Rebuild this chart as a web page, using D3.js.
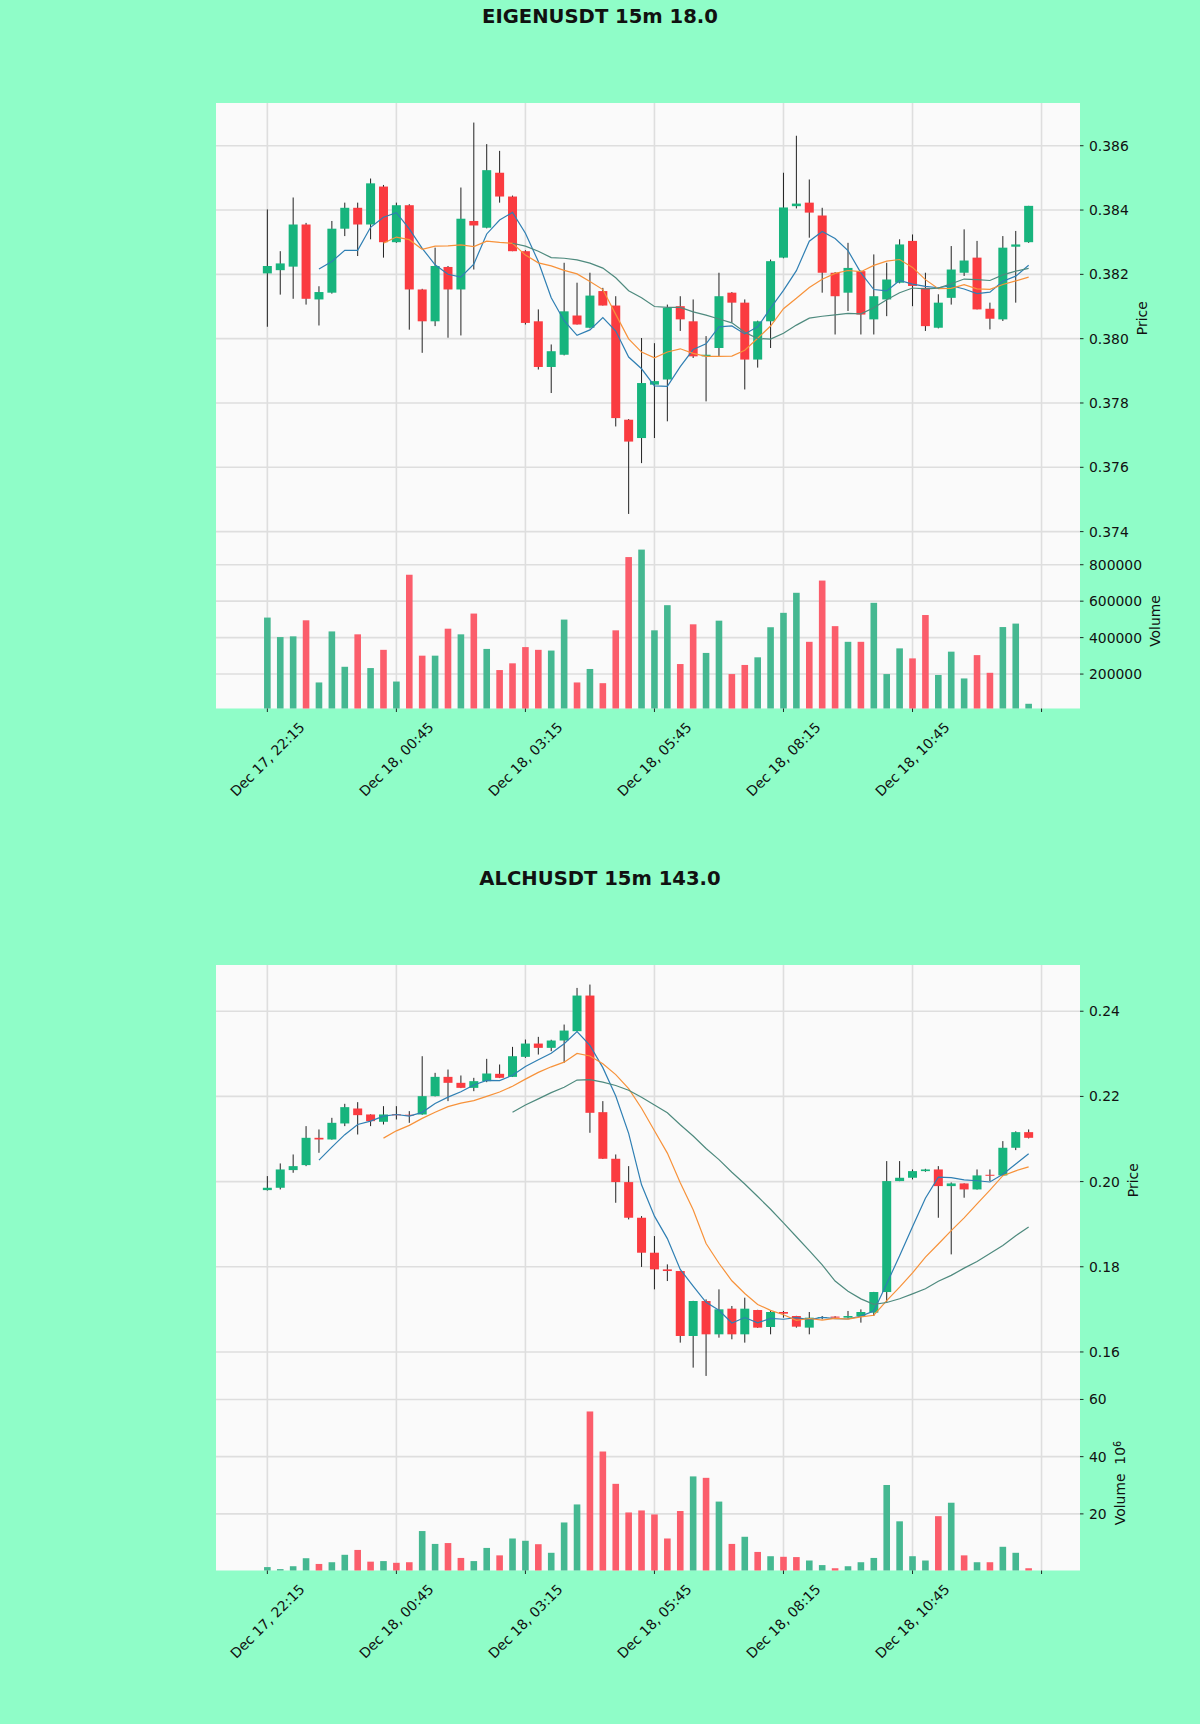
<!DOCTYPE html>
<html>
<head>
<meta charset="utf-8">
<script src="https://cdn.jsdelivr.net/npm/d3@7"></script>
<style>
  body { margin: 0; background: #8ffdc8; }
  svg { display: block; }
  text { font-family: "DejaVu Sans", sans-serif; fill: #111; }
</style>
</head>
<body>
<div id="chart"></div>
<script>
// tick labels on the shared time axis (one every 10 candles, last tick is past the data)
var tickIndex = [0, 10, 20, 30, 40, 50, 60];
var tickLabels = ["Dec 17, 22:15", "Dec 18, 00:45", "Dec 18, 03:15", "Dec 18, 05:45",
                  "Dec 18, 08:15", "Dec 18, 10:45", ""];
var mavPeriods = [5, 10, 20];
var mavColors = ["#2f7fb3", "#f7923a", "#4e8a7e"];

// ---- EIGENUSDT 15m ----
var eigenOpen = [0.38203,0.38213,0.38224,0.38355,0.38122,0.38143,0.38342,0.38407,0.38355,0.38473,
  0.38300,0.38415,0.38153,0.38054,0.38223,0.38153,0.38366,0.38345,0.38516,0.38442,
  0.38272,0.38054,0.37912,0.37950,0.38072,0.38034,0.38148,0.38103,0.37748,0.37691,
  0.37857,0.37873,0.38101,0.38054,0.37945,0.37971,0.38143,0.38112,0.37935,0.38054,
  0.38252,0.38412,0.38423,0.38383,0.38205,0.38143,0.38210,0.38060,0.38122,0.38174,
  0.38304,0.38158,0.38034,0.38127,0.38205,0.38252,0.38093,0.38060,0.38286,0.38300];
var eigenHigh = [0.38402,0.38272,0.38439,0.38360,0.38163,0.38366,0.38423,0.38423,0.38498,0.38478,
  0.38423,0.38418,0.38155,0.38283,0.38226,0.38470,0.38672,0.38605,0.38584,0.38445,
  0.38275,0.38091,0.37982,0.38236,0.38174,0.38205,0.38158,0.38132,0.37750,0.38002,
  0.37986,0.38106,0.38132,0.38122,0.38008,0.38205,0.38145,0.38122,0.38056,0.38246,
  0.38516,0.38631,0.38495,0.38407,0.38207,0.38298,0.38212,0.38262,0.38236,0.38309,
  0.38324,0.38205,0.38138,0.38288,0.38340,0.38304,0.38112,0.38319,0.38335,0.38413];
var eigenLow = [0.38037,0.38137,0.38124,0.38106,0.38041,0.38140,0.38319,0.38257,0.38309,0.38252,
  0.38298,0.38028,0.37956,0.38039,0.38003,0.38010,0.38215,0.38343,0.38423,0.38272,
  0.38044,0.37904,0.37831,0.37948,0.38044,0.38032,0.38103,0.37727,0.37455,0.37613,
  0.37691,0.37743,0.38024,0.37940,0.37805,0.37945,0.38050,0.37842,0.37910,0.37971,
  0.38250,0.38405,0.38314,0.38143,0.38013,0.38086,0.38013,0.38013,0.38070,0.38172,
  0.38101,0.38024,0.38032,0.38106,0.38195,0.38091,0.38029,0.38055,0.38112,0.38298];
var eigenClose = [0.38226,0.38234,0.38355,0.38124,0.38145,0.38342,0.38407,0.38355,0.38483,0.38300,
  0.38415,0.38153,0.38054,0.38226,0.38153,0.38373,0.38352,0.38524,0.38442,0.38272,
  0.38049,0.37912,0.37961,0.38085,0.38044,0.38134,0.38103,0.37753,0.37680,0.37862,
  0.37868,0.38096,0.38060,0.37945,0.37950,0.38132,0.38112,0.37935,0.38054,0.38241,
  0.38408,0.38420,0.38392,0.38205,0.38132,0.38220,0.38075,0.38132,0.38184,0.38293,
  0.38164,0.38039,0.38112,0.38215,0.38243,0.38091,0.38062,0.38283,0.38293,0.38413];
var eigenVolume = [510000,403000,407000,495000,154000,434000,240000,418000,233000,333000,
  159000,745000,301000,301000,449000,418000,532000,338000,222000,259000,
  348000,333000,329000,499000,154000,228000,150000,440000,842000,883000,
  440000,578000,255000,473000,316000,493000,200000,250000,292000,457000,
  536000,646000,377000,713000,463000,377000,377000,591000,200000,341000,
  286000,524000,195000,323000,176000,304000,207000,458000,477000,37000];
var eigenPriceTicks = [0.374, 0.376, 0.378, 0.380, 0.382, 0.384, 0.386];
var eigenVolTicks = [200000, 400000, 600000, 800000];

// ---- ALCHUSDT 15m ----
var alchOpen = [0.19800,0.19855,0.20270,0.20387,0.21028,0.20989,0.21365,0.21716,0.21576,0.21404,
  0.21580,0.21570,0.21576,0.22006,0.22459,0.22319,0.22201,0.22358,0.22530,0.22459,
  0.22929,0.23241,0.23140,0.23312,0.23531,0.24368,0.21630,0.20536,0.19988,0.19151,
  0.18330,0.17939,0.17900,0.16375,0.17196,0.16414,0.17016,0.16414,0.16985,0.16586,
  0.16938,0.16844,0.16571,0.16805,0.16830,0.16805,0.16844,0.16923,0.17407,0.20012,
  0.20090,0.20246,0.20285,0.19894,0.19957,0.19816,0.20160,0.20145,0.20794,0.21161];
var alchHigh = [0.20129,0.20426,0.20637,0.21302,0.21224,0.21497,0.21826,0.21865,0.21580,0.21771,
  0.21771,0.21654,0.22944,0.22553,0.22631,0.22491,0.22436,0.22882,0.22749,0.23163,
  0.23335,0.23398,0.23330,0.23687,0.24547,0.24626,0.21889,0.20637,0.20363,0.19190,
  0.18721,0.18056,0.17905,0.17200,0.17235,0.17470,0.17079,0.17274,0.16990,0.16985,
  0.16962,0.16848,0.16938,0.16844,0.16840,0.16962,0.16999,0.17410,0.20481,0.20481,
  0.20285,0.20300,0.20363,0.19980,0.19960,0.20285,0.20285,0.20950,0.21180,0.21224];
var alchLow = [0.19790,0.19816,0.20207,0.20363,0.20676,0.20985,0.21302,0.21106,0.21302,0.21341,
  0.21458,0.21380,0.21570,0.22000,0.21889,0.22195,0.22123,0.22334,0.22430,0.22455,
  0.22905,0.22983,0.23062,0.22788,0.23525,0.21146,0.20530,0.19503,0.19112,0.17996,
  0.17470,0.17665,0.16219,0.15632,0.15437,0.16336,0.16297,0.16219,0.16565,0.16414,
  0.16805,0.16571,0.16414,0.16766,0.16790,0.16782,0.16688,0.16844,0.17157,0.20010,
  0.20051,0.20230,0.19151,0.18291,0.19621,0.19812,0.20012,0.20129,0.20739,0.21013];
var alchClose = [0.19855,0.20285,0.20363,0.21028,0.20989,0.21380,0.21748,0.21560,0.21419,0.21576,
  0.21570,0.21560,0.22006,0.22459,0.22319,0.22201,0.22358,0.22538,0.22436,0.22944,
  0.23241,0.23140,0.23312,0.23546,0.24368,0.21615,0.20536,0.19988,0.19151,0.18330,
  0.17939,0.17900,0.16375,0.17196,0.16414,0.17001,0.16414,0.17016,0.16571,0.16938,
  0.16899,0.16594,0.16805,0.16820,0.16805,0.16844,0.16938,0.17407,0.20012,0.20090,
  0.20246,0.20285,0.19894,0.19957,0.19816,0.20145,0.20140,0.20794,0.21161,0.21028];
var alchVolume = [1.4e6,0.7e6,1.7e6,4.5e6,2.5e6,3.1e6,5.7e6,7.4e6,3.3e6,3.5e6,
  2.9e6,3.1e6,14.0e6,9.5e6,9.8e6,4.6e6,3.5e6,8.1e6,5.5e6,11.4e6,
  10.6e6,9.4e6,6.4e6,17.0e6,23.3e6,55.8e6,41.8e6,30.5e6,20.5e6,21.2e6,
  19.8e6,11.4e6,21.0e6,33.1e6,32.6e6,24.3e6,9.5e6,12.0e6,6.7e6,5.2e6,
  5.0e6,4.9e6,3.7e6,2.1e6,1.0e6,1.7e6,3.1e6,4.6e6,30.1e6,17.4e6,
  5.2e6,3.7e6,19.2e6,23.9e6,5.5e6,3.1e6,3.1e6,8.5e6,6.4e6,1.0e6];
var alchPriceTicks = [0.16, 0.18, 0.20, 0.22, 0.24];
var alchVolTicks = [20e6, 40e6, 60e6];

var charts = [
  {title: "EIGENUSDT 15m 18.0", open: eigenOpen, high: eigenHigh, low: eigenLow, close: eigenClose,
   volume: eigenVolume, priceTicks: eigenPriceTicks, volTicks: eigenVolTicks, priceFmt: d3.format(".3f"),
   volScale: 1, volExp: null},
  {title: "ALCHUSDT 15m 143.0", open: alchOpen, high: alchHigh, low: alchLow, close: alchClose,
   volume: alchVolume, priceTicks: alchPriceTicks, volTicks: alchVolTicks, priceFmt: d3.format(".2f"),
   volScale: 1e6, volExp: "6"}
];

var W = 1200, H = 1724, half = 862;
var left = 216, right = 1080, pTop = 103, pSplit = 533.5, vBot = 708.5;
var fs = 13.9;
var upColor = "#17b47d", downColor = "#fa3b40";
var upVol = "#45b891", downVol = "#fb5d6b";
var gridColor = "#dedede";

var svg = d3.select("#chart").append("svg").attr("width", W).attr("height", H);

var movingAvg = function(vals, n) {
  return vals.map(function(v, i) {
    return i < n - 1 ? null : d3.mean(vals.slice(i - n + 1, i + 1));
  });
};

var drawChart = function(c, top) {
  var g = svg.append("g").attr("transform", "translate(0," + top + ")");
  var n = c.close.length;

  var x = d3.scaleLinear().domain([-3.98, n - 1 + 3.98]).range([left, right]);
  var lo = d3.min(c.low), hi = d3.max(c.high), pad = (hi - lo) * 0.05;
  var y = d3.scaleLinear().domain([lo - pad, hi + pad]).range([pSplit, pTop]);
  var yv = d3.scaleLinear().domain([0.3 * d3.min(c.volume), 1.1 * d3.max(c.volume)]).range([vBot, pSplit]);

  g.append("text").attr("x", 600).attr("y", 23).attr("text-anchor", "middle")
    .style("font-size", "19.6px").style("font-weight", "bold").text(c.title);

  g.append("rect").attr("x", left).attr("y", pTop).attr("width", right - left)
    .attr("height", vBot - pTop).attr("fill", "#fafafa");

  // grid
  var grid = g.append("g").attr("stroke", gridColor).attr("stroke-width", 1.6);
  grid.selectAll("line.v").data(tickIndex).enter().append("line")
    .attr("x1", function(d) { return x(d); }).attr("x2", function(d) { return x(d); })
    .attr("y1", pTop).attr("y2", vBot);
  grid.selectAll("line.p").data(c.priceTicks).enter().append("line")
    .attr("x1", left).attr("x2", right)
    .attr("y1", function(d) { return y(d); }).attr("y2", function(d) { return y(d); });
  grid.selectAll("line.vv").data(c.volTicks).enter().append("line")
    .attr("x1", left).attr("x2", right)
    .attr("y1", function(d) { return yv(d); }).attr("y2", function(d) { return yv(d); });

  var idx = d3.range(n);
  var bw = 9, vw = 6.6;

  // volume bars
  g.append("g").selectAll("rect").data(idx).enter().append("rect")
    .attr("x", function(i) { return x(i) - vw / 2; })
    .attr("width", vw)
    .attr("y", function(i) { return yv(c.volume[i]); })
    .attr("height", function(i) { return vBot - yv(c.volume[i]); })
    .attr("fill", function(i) { return c.close[i] >= c.open[i] ? upVol : downVol; });

  // candles
  var cg = g.append("g");
  cg.selectAll("line").data(idx).enter().append("line")
    .attr("x1", function(i) { return x(i); }).attr("x2", function(i) { return x(i); })
    .attr("y1", function(i) { return y(c.high[i]); }).attr("y2", function(i) { return y(c.low[i]); })
    .attr("stroke", "#222").attr("stroke-width", 1);
  cg.selectAll("rect").data(idx).enter().append("rect")
    .attr("x", function(i) { return x(i) - bw / 2; })
    .attr("width", bw)
    .attr("y", function(i) { return y(Math.max(c.open[i], c.close[i])); })
    .attr("height", function(i) { return Math.max(Math.abs(y(c.open[i]) - y(c.close[i])), 1); })
    .attr("fill", function(i) { return c.close[i] >= c.open[i] ? upColor : downColor; });

  // moving averages
  mavPeriods.forEach(function(p, k) {
    var ma = movingAvg(c.close, p);
    var line = d3.line().defined(function(d) { return d !== null; })
      .x(function(d, i) { return x(i); }).y(function(d) { return y(d); });
    g.append("path").datum(ma).attr("d", line).attr("fill", "none")
      .attr("stroke", mavColors[k]).attr("stroke-width", 1.2);
  });

  // right axes
  var ax = g.append("g");
  var labelW = function(sel) {
    var m = 0;
    sel.each(function() { m = Math.max(m, this.getComputedTextLength()); });
    return m;
  };
  var drawYTicks = function(ticks, scale, fmt) {
    ax.selectAll(null).data(ticks).enter().append("line")
      .attr("x1", right).attr("x2", right + 3.5)
      .attr("y1", function(d) { return scale(d); }).attr("y2", function(d) { return scale(d); })
      .attr("stroke", "#111").attr("stroke-width", 0.9);
    var t = ax.selectAll(null).data(ticks).enter().append("text")
      .attr("x", right + 9).attr("y", function(d) { return scale(d); }).attr("dy", "0.36em")
      .style("font-size", fs + "px").text(fmt);
    return labelW(t);
  };
  var pw = drawYTicks(c.priceTicks, y, c.priceFmt);
  var vwid = drawYTicks(c.volTicks, yv, function(d) { return String(d / c.volScale); });

  ax.append("text").attr("transform", "translate(" + (right + 9 + pw + 13.5) + "," + ((pTop + pSplit) / 2) + ") rotate(-90)")
    .attr("text-anchor", "middle").attr("dy", "0.35em").style("font-size", fs + "px").text("Price");
  var vl = ax.append("text")
    .attr("transform", "translate(" + (right + 9 + vwid + 13.5) + "," + ((pSplit + vBot) / 2) + ") rotate(-90)")
    .attr("text-anchor", "middle").attr("dy", "0.35em").style("font-size", fs + "px")
    .style("white-space", "pre");
  vl.append("tspan").text(c.volExp ? "Volume  10" : "Volume");
  if (c.volExp) {
    vl.append("tspan").attr("dy", "-0.45em").style("font-size", "9.7px").text(c.volExp);
  }

  // bottom time axis
  ax.selectAll(null).data(tickIndex).enter().append("line")
    .attr("x1", function(d) { return x(d); }).attr("x2", function(d) { return x(d); })
    .attr("y1", vBot).attr("y2", vBot + 3.5).attr("stroke", "#111").attr("stroke-width", 0.9);
  tickIndex.forEach(function(d, k) {
    if (!tickLabels[k]) return;
    var t = ax.append("text").attr("text-anchor", "middle").attr("dy", "0.35em")
      .style("font-size", fs + "px").text(tickLabels[k]);
    var w = t.node().getComputedTextLength();
    var bh = (w + fs * 1.16) * Math.SQRT1_2;
    t.attr("transform", "translate(" + x(d) + "," + (vBot + 10.5 + bh / 2) + ") rotate(-45)");
  });
};

charts.forEach(function(c, k) { drawChart(c, k * half); });
</script>
</body>
</html>
